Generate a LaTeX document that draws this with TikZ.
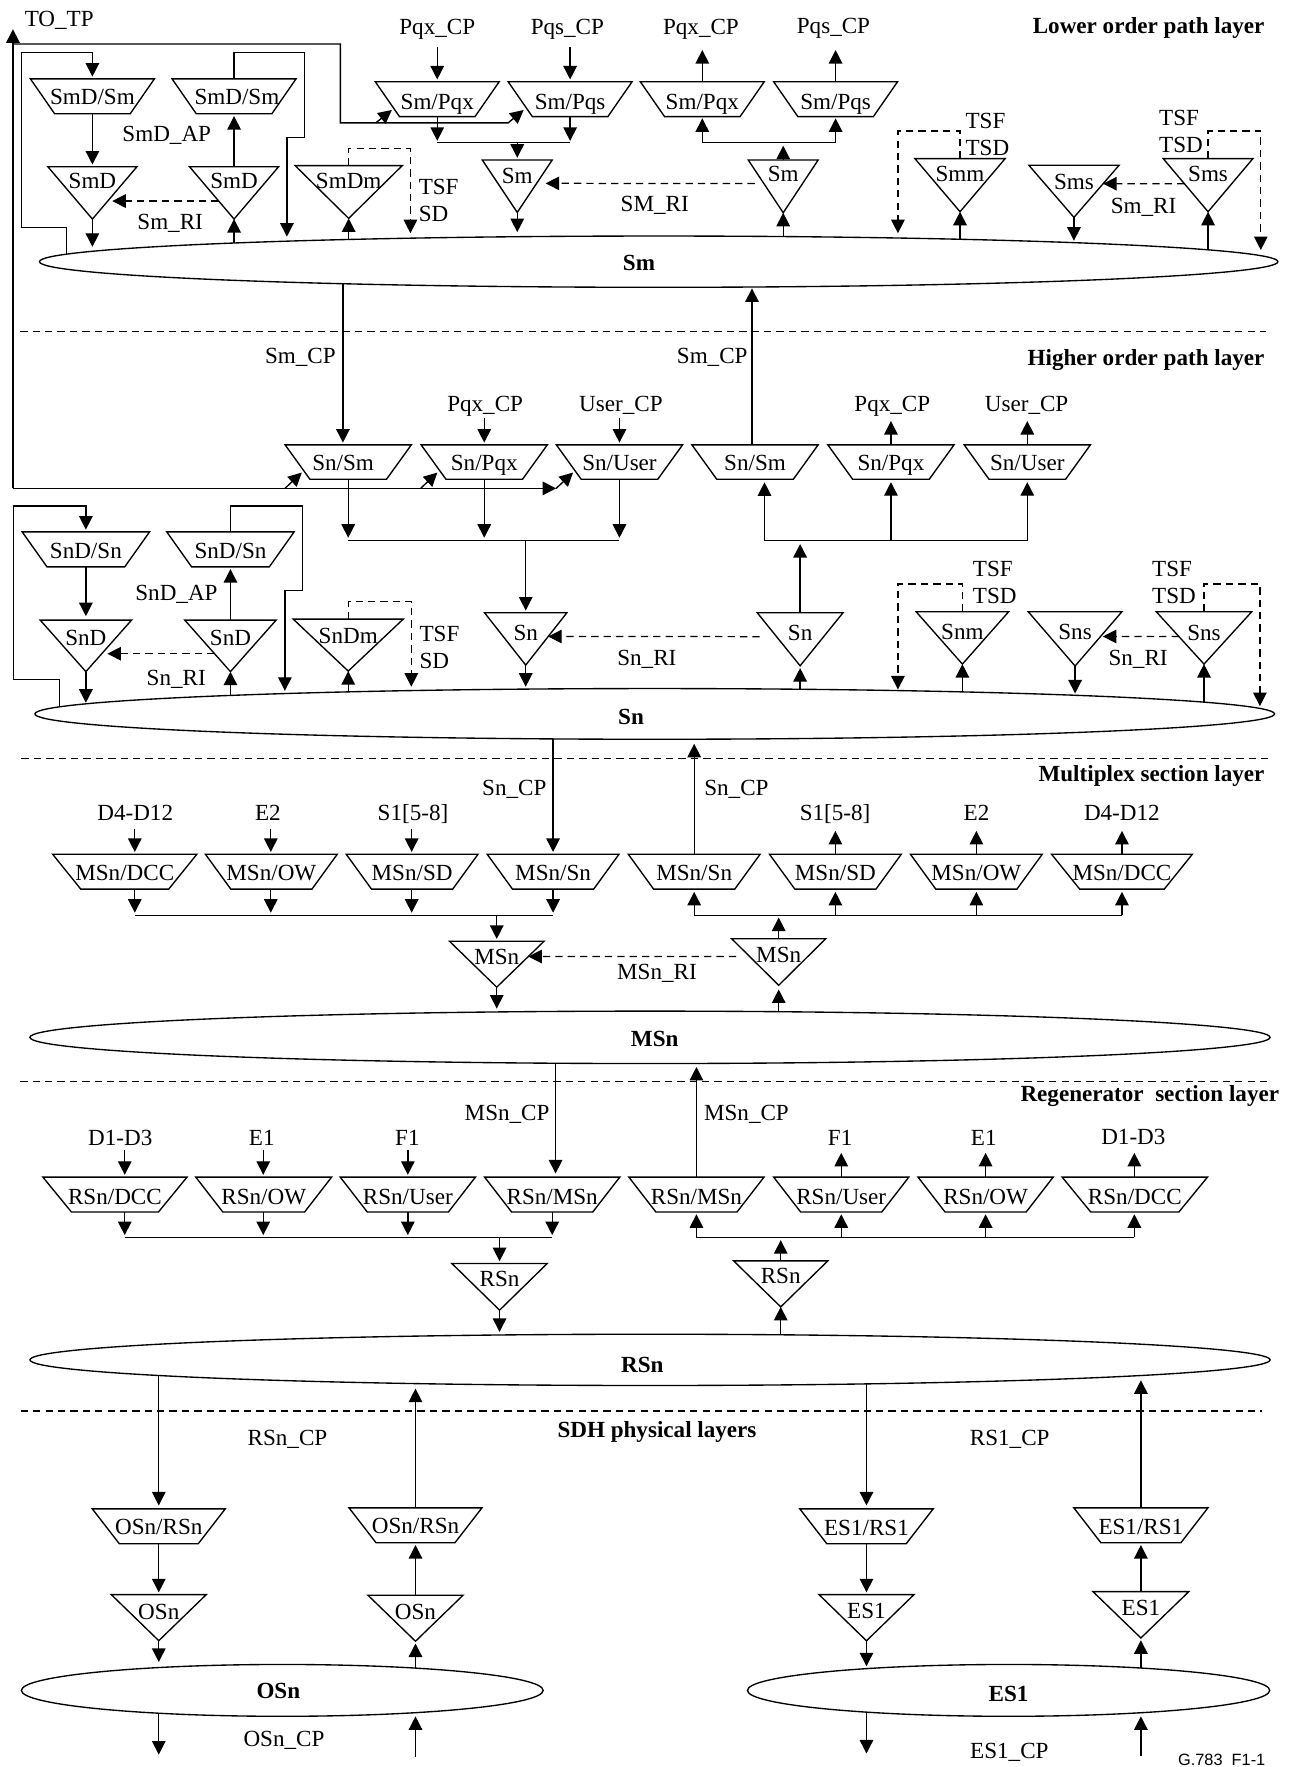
\documentclass[tikz,border=0pt]{standalone}
\usepackage{fontspec}
\setmainfont{Liberation Serif}
\newfontfamily\sansf{Liberation Sans}
\usetikzlibrary{arrows.meta,calc,shapes.geometric}
\pgfdeclarelayer{conn}
\pgfsetlayers{conn,main}
\newdimen\dsxa \newdimen\dsxb \newdimen\dsya \newdimen\dsyb \newdimen\dsin \newdimen\dsmid
\makeatletter
\pgfdeclareshape{dtri}{
  \inheritsavedanchors[from=rectangle]
  \inheritanchorborder[from=rectangle]
  \inheritanchor[from=rectangle]{center}
  \inheritanchor[from=rectangle]{north}
  \inheritanchor[from=rectangle]{south}
  \inheritanchor[from=rectangle]{east}
  \inheritanchor[from=rectangle]{west}
  \inheritanchor[from=rectangle]{north east}
  \inheritanchor[from=rectangle]{north west}
  \inheritanchor[from=rectangle]{south east}
  \inheritanchor[from=rectangle]{south west}
  \backgroundpath{
    \southwest \dsxa=\pgf@x \dsya=\pgf@y
    \northeast \dsxb=\pgf@x \dsyb=\pgf@y
    \dsmid=.5\dsxa \advance\dsmid by .5\dsxb
    \pgfpathmoveto{\pgfqpoint{\dsxa}{\dsyb}}
    \pgfpathlineto{\pgfqpoint{\dsxb}{\dsyb}}
    \pgfpathlineto{\pgfqpoint{\dsmid}{\dsya}}
    \pgfpathclose
  }
}
\pgfdeclareshape{dtrap}{
  \inheritsavedanchors[from=rectangle]
  \inheritanchorborder[from=rectangle]
  \inheritanchor[from=rectangle]{center}
  \inheritanchor[from=rectangle]{north}
  \inheritanchor[from=rectangle]{south}
  \inheritanchor[from=rectangle]{east}
  \inheritanchor[from=rectangle]{west}
  \inheritanchor[from=rectangle]{north east}
  \inheritanchor[from=rectangle]{north west}
  \inheritanchor[from=rectangle]{south east}
  \inheritanchor[from=rectangle]{south west}
  \backgroundpath{
    \pgfmathsetlength{\dsin}{\pgfkeysvalueof{/tikz/trap inset}}
    \southwest \dsxa=\pgf@x \dsya=\pgf@y
    \northeast \dsxb=\pgf@x \dsyb=\pgf@y
    \pgfpathmoveto{\pgfqpoint{\dsxa}{\dsyb}}
    \pgfpathlineto{\pgfqpoint{\dsxb}{\dsyb}}
    \advance\dsxb by -\dsin
    \pgfpathlineto{\pgfqpoint{\dsxb}{\dsya}}
    \advance\dsxa by \dsin
    \pgfpathlineto{\pgfqpoint{\dsxa}{\dsya}}
    \pgfpathclose
  }
}
\makeatother
\tikzset{
  trap inset/.initial=22pt,
  lnk/.style={line width=1.2pt,line join=miter},
  arr/.style={lnk,-{Triangle[length=12pt,width=12pt]}},
  arrs/.style={arr,shorten >=2pt},
  dsh/.style={line width=1.1pt,dash pattern=on 6.5pt off 4.5pt},
  dar/.style={dsh,-{Triangle[length=12pt,width=12pt]}},
  box/.style={draw,line width=1.2pt,inner sep=0pt,outer sep=0pt},
  txt/.style={inner sep=0pt,outer sep=0pt},
  sepline/.style={line width=1.1pt,dash pattern=on 6.5pt off 4.5pt}
}
\newcommand\Lab[3]{\smash{\makebox[0pt]{\kern#1pt\raisebox{#2pt}{#3}\kern-#1pt}}}
\newcommand\Tri[7]{\node[dtri,box,minimum width=#5pt,minimum height={(#4-#3)*1pt}] (#1) at (#2,{(#3+#4)/2}) {\Lab{0}{#6}{#7}};}
\newcommand\Trap[8]{\node[dtrap,box,trap inset=#6pt,minimum width=#4pt,minimum height=#5pt] (#1) at (#2,#3) {\Lab{0}{#7}{#8}};}
\newcommand\Ell[8]{\node[ellipse,box,fill=white,minimum width=#4pt,minimum height=#5pt] (#1) at (#2,#3) {\Lab{#6}{#7}{\bfseries #8}};}
\newcommand\Txt[5][base]{\node[txt,anchor=#1] (#2) at (#3,#4) {#5};}
\begin{document}
\begin{tikzpicture}[x=1pt,y=-1pt,font=\fontsize{20.5}{24}\selectfont]
\useasboundingbox (0,0) rectangle (1144,1568);

% ---------- ellipses
\Ell{sm}{584.5}{232.2}{1099}{45.5}{-17.5}{-7.8}{Sm}
\Ell{sn}{581}{633.5}{1100}{45}{-21}{-9.4}{Sn}
\Ell{msn}{576.8}{920.5}{1100.5}{46.5}{4.2}{-8.5}{MSn}
\Ell{rsn}{576.8}{1206.7}{1100.5}{45.5}{-6.8}{-11.6}{RSn}
\Ell{osn}{250.5}{1500}{463}{46}{-3.5}{-7.3}{OSn}
\Ell{esa}{895}{1500}{463.5}{46}{0}{-9.7}{ES1}

% ---------- layer separators and titles
\coordinate (sepA1) at (18,294); \coordinate (sepA2) at (1123,294);
\coordinate (sepB1) at (19,673); \coordinate (sepB2) at (1127,673);
\coordinate (sepC1) at (18,959.4); \coordinate (sepC2) at (1127,959.4);
\coordinate (sepD1) at (18.4,1252.3); \coordinate (sepD2) at (1120,1252.3);
\draw[sepline] (sepA1) -- (sepA2);
\draw[sepline] (sepB1) -- (sepB2);
\draw[sepline] (sepC1) -- (sepC2);
\draw[sepline,line width=1.6pt] (sepD1) -- (sepD2);
\Txt[base east]{ttlA}{1122}{29.6}{\bfseries Lower order path layer}
\Txt[base east]{ttlB}{1122}{324}{\bfseries Higher order path layer}
\Txt[base east]{ttlC}{1122}{693.8}{\bfseries Multiplex section layer}
\Txt[base east]{ttlD}{1135}{977.7}{\bfseries Regenerator\ \ section layer}
\Txt{ttlE}{583}{1275.7}{\bfseries SDH physical layers}

% ---------- lower order path layer: shapes
\Trap{tSmDa}{82}{85.5}{110}{31}{21.5}{-7}{SmD/Sm}
\Trap{tSmDb}{207.7}{85.5}{110}{31}{21.5}{-7}{\kern5pt SmD/Sm}
\Trap{tPqxa}{388}{88}{110}{31}{21.5}{-9.6}{Sm/Pqx}
\Trap{tPqsa}{505.9}{88}{110}{31}{21.5}{-9.6}{Sm/Pqs}
\Trap{tPqxb}{623.2}{88}{110}{31}{21.5}{-9.6}{Sm/Pqx}
\Trap{tPqsb}{741.5}{88}{110}{31}{21.5}{-9.6}{Sm/Pqs}
\Tri{dSmDa}{82}{148}{194.4}{79}{3.8}{SmD}
\Tri{dSmDb}{207.7}{148}{194.4}{79}{3.8}{SmD}
\Tri{dSmDm}{309.4}{147}{193.8}{95}{3}{SmDm}
\Tri{dSma}{459}{142}{188.5}{62}{2.5}{Sm}
\Tri{dSmb}{695}{142}{188.8}{62}{4}{Sm}
\Tri{dSmm}{851.9}{140.8}{187.9}{80}{3}{Smm}
\Tri{dSmsa}{953}{146.7}{192.9}{80}{2}{Sms}
\Tri{dSmsb}{1072}{140.8}{187.9}{79.5}{3}{Sms}

% labels
\Txt[base west]{lTOTP}{22}{23.7}{TO\_TP}
\Txt{lPqxa}{388}{31}{Pqx\_CP}
\Txt{lPqsa}{503.5}{31}{Pqs\_CP}
\Txt{lPqxb}{622}{31}{Pqx\_CP}
\Txt{lPqsb}{739.6}{30}{Pqs\_CP}
\Txt{lSmDAP}{148}{125.7}{SmD\_AP}
\Txt{lSmRIa}{151}{204}{Sm\_RI}
\Txt{lSMRI}{581}{188}{SM\_RI}
\Txt{lSmRIb}{1014.7}{189.3}{Sm\_RI}
\Txt[base west]{lTSFa}{371.6}{173}{TSF}
\Txt[base west]{lSDa}{371.6}{196.7}{SD}
\Txt[base west]{lTSFb}{856.8}{114}{TSF}
\Txt[base west]{lTSDb}{856.8}{137.6}{TSD}
\Txt[base west]{lTSFc}{1028.6}{111}{TSF}
\Txt[base west]{lTSDc}{1028.6}{135.2}{TSD}

% ---------- higher order path layer: shapes
\Trap{tSnSma}{309}{410}{112}{30.5}{22}{-7.5}{\kern-9pt Sn/Sm}
\Trap{tSnPa}{429.7}{410}{112}{30.5}{22}{-7.5}{Sn/Pqx}
\Trap{tSnUa}{549.7}{410}{112}{30.5}{22}{-7.5}{Sn/User}
\Trap{tSnSmb}{670}{410}{112}{30.5}{22}{-7.5}{Sn/Sm}
\Trap{tSnPb}{790.6}{410}{112}{30.5}{22}{-7.5}{Sn/Pqx}
\Trap{tSnUb}{911.6}{410}{112}{30.5}{22}{-7.5}{Sn/User}
\Trap{tSnDa}{76.2}{487.5}{113}{31}{22}{-7.7}{SnD/Sn}
\Trap{tSnDb}{204.5}{487.5}{113}{31}{22}{-7.7}{SnD/Sn}
\Tri{dSnDa}{76.2}{550.3}{596}{81}{0.5}{SnD}
\Tri{dSnDb}{204.5}{550.3}{596}{81}{0.5}{SnD}
\Tri{dSnDm}{309}{549.4}{595.5}{97.6}{1}{SnDm}
\Tri{dSna}{466.5}{543.8}{590.2}{73}{-1}{Sn}
\Tri{dSnb}{710}{543.8}{590.8}{76}{-1}{Sn}
\Tri{dSnm}{854}{542.9}{589.3}{82}{-1.3}{Snm}
\Tri{dSnsa}{954}{542.9}{591}{83}{-0.5}{Sns}
\Tri{dSnsb}{1068.4}{542.9}{589.3}{84.6}{-2}{Sns}

\Txt{lSmCPa}{266.5}{323}{Sm\_CP}
\Txt{lSmCPb}{632}{323}{Sm\_CP}
\Txt{lPqxc}{430.5}{365.4}{Pqx\_CP}
\Txt{lUsra}{551}{365.4}{User\_CP}
\Txt{lPqxd}{791.8}{365}{Pqx\_CP}
\Txt{lUsrb}{911}{365}{User\_CP}
\Txt{lSnDAP}{156.6}{532.5}{SnD\_AP}
\Txt{lSnRIa}{156.4}{608}{Sn\_RI}
\Txt{lSnRIb}{574}{590.8}{Sn\_RI}
\Txt{lSnRIc}{1009.9}{590.8}{Sn\_RI}
\Txt[base west]{lTSFd}{372.3}{569.5}{TSF}
\Txt[base west]{lSDb}{372.3}{593.2}{SD}
\Txt[base west]{lTSFe}{863.4}{511.8}{TSF}
\Txt[base west]{lTSDe}{863.4}{535.5}{TSD}
\Txt[base west]{lTSFf}{1022.4}{511.8}{TSF}
\Txt[base west]{lTSDf}{1022.4}{535.5}{TSD}

% ---------- multiplex section layer: shapes
\Trap{tMDa}{110.7}{773.5}{128}{31}{25}{-7.5}{MSn/DCC}
\Trap{tMOa}{240.8}{773.5}{117}{31}{22.5}{-7.5}{MSn/OW}
\Trap{tMSa}{365.7}{773.5}{117}{31}{22.5}{-7.5}{MSn/SD}
\Trap{tMNa}{490.8}{773.5}{117}{31}{22.5}{-7.5}{MSn/Sn}
\Trap{tMNb}{616}{773.5}{117}{31}{22.5}{-7.5}{MSn/Sn}
\Trap{tMSb}{741.3}{773.5}{117}{31}{22.5}{-7.5}{MSn/SD}
\Trap{tMOb}{866.4}{773.5}{117}{31}{22.5}{-7.5}{MSn/OW}
\Trap{tMDb}{995.6}{773.5}{125}{31}{25}{-7.5}{MSn/DCC}
\Tri{dMa}{440.8}{835.2}{876}{84}{0}{MSn}
\Tri{dMb}{691}{833}{874.3}{83.5}{0}{MSn}

\Txt{lSnCPa}{456.4}{705.6}{Sn\_CP}
\Txt{lSnCPb}{653.5}{705.6}{Sn\_CP}
\Txt{lD4a}{120}{727.8}{D4-D12}
\Txt{lE2a}{237.7}{727.8}{E2}
\Txt{lS1a}{366.5}{727.8}{S1[5-8]}
\Txt{lS1b}{741}{727.8}{S1[5-8]}
\Txt{lE2b}{866.5}{727.8}{E2}
\Txt{lD4b}{995.5}{727.8}{D4-D12}
\Txt{lMSnRI}{583}{869.2}{MSn\_RI}

% ---------- regenerator section layer: shapes
\Trap{tRDa}{102}{1060}{128}{31}{25.4}{-9}{RSn/DCC}
\Trap{tROa}{234}{1060}{120.6}{31}{24}{-9}{RSn/OW}
\Trap{tRUa}{361.9}{1060}{120}{31}{24}{-9}{RSn/User}
\Trap{tRMa}{490}{1060}{120}{31}{24}{-9}{RSn/MSn}
\Trap{tRMb}{618}{1060}{120}{31}{24}{-9}{RSn/MSn}
\Trap{tRUb}{746.5}{1060}{120}{31}{24}{-9}{RSn/User}
\Trap{tROb}{874.6}{1060}{120}{31}{24}{-9}{RSn/OW}
\Trap{tRDb}{1007}{1060}{129}{31}{25.4}{-9}{RSn/DCC}
\Tri{dRa}{443.3}{1121.2}{1162.6}{84.6}{0}{RSn}
\Tri{dRb}{692.8}{1118.9}{1159.7}{83.5}{0}{RSn}

\Txt{lMSnCPa}{450}{994}{MSn\_CP}
\Txt{lMSnCPb}{662.4}{994}{MSn\_CP}
\Txt{lD1a}{106.7}{1016.2}{D1-D3}
\Txt{lE1a}{232.3}{1016.2}{E1}
\Txt{lF1a}{361.5}{1016.2}{F1}
\Txt{lF1b}{745.5}{1016.2}{F1}
\Txt{lE1b}{873}{1016.2}{E1}
\Txt{lD1b}{1005.7}{1015.3}{D1-D3}

% ---------- physical layers: shapes
\Trap{tOa}{140.9}{1354.4}{118}{31}{24}{-7.4}{OSn/RSn}
\Trap{tOb}{368.7}{1353.5}{118}{31}{24}{-7.4}{OSn/RSn}
\Trap{tEa}{768.9}{1354.4}{118.4}{31}{24}{-8}{ES1/RS1}
\Trap{tEb}{1012.4}{1353.5}{119}{31}{24}{-8}{ES1/RS1}
\Tri{dOa}{140.9}{1415}{1455.9}{84.3}{-1.5}{OSn}
\Tri{dOb}{368.7}{1415.6}{1456.4}{84.3}{-1.5}{OSn}
\Tri{dEa}{768.9}{1415}{1456}{84.3}{-1}{ES1}
\Tri{dEb}{1012.4}{1412.4}{1453.5}{85}{-1}{ES1}

\Txt{lRSnCP}{255.1}{1282.5}{RSn\_CP}
\Txt{lRS1CP}{896}{1282.5}{RS1\_CP}
\Txt{lOSnCP}{252}{1550.2}{OSn\_CP}
\Txt{lES1CP}{895.7}{1560}{ES1\_CP}
\Txt[base east]{lFig}{1122.8}{1566.5}{\sansf\fontsize{14.5}{16}\selectfont G.783\ \ F1-1}

% ---------- connectors (under the shapes)
\begin{pgfonlayer}{conn}
% TO_TP bus
\coordinate (tpTop) at (11.5,26);
\coordinate (tpLow) at (11.5,433.4);
\coordinate (tpA) at (302,39);
\coordinate (tpB) at (302,109);
\coordinate (tpC) at (451,109);
\coordinate (tpD) at (333.5,109);
\coordinate (inPqs) at ($(tPqsa.south west)+(13.8,-5.9)$);
\coordinate (inPqx) at ($(tPqxa.south west)+(14.7,-5.9)$);
\draw[arr] (tpLow) -- (tpTop);
\draw[arr] (tpLow |- tpA) -- (tpA) -- (tpB) -- (tpC) -- (inPqs);
\draw[arr] (tpD) -- (inPqx);
\coordinate (tpE) at (493.5,433.4);
\coordinate (inSa) at ($(tSnSma.south west)+(14.8,-5.9)$);
\coordinate (inSb) at ($(tSnPa.south west)+(14.4,-5.9)$);
\coordinate (inSc) at ($(tSnUa.south west)+(14.8,-5.9)$);
\coordinate (tpF) at ($(inSa)+(-14.8,13.9)$);
\coordinate (tpG) at ($(inSb)+(-14.7,13.9)$);
\draw[arr] (tpLow) -- (tpE);
\draw[arr] (tpF) -- (inSa);
\draw[arr] (tpG) -- (inSb);
\draw[arr] (tpE) -- (inSc);

% Lower order, SmD loops
\coordinate (lA1) at (59,201.8);
\coordinate (lA2) at (19,201.8);
\coordinate (lA3) at (19,46.4);
\draw[arrs] (lA1 |- sm.center) -- (lA1) -- (lA2) -- (lA3) -- (lA3 -| tSmDa.north) -- (tSmDa.north);
\draw[arrs] (tSmDa.south) -- (dSmDa.north);
\coordinate (eA) at (82,219);
\draw[arr] (dSmDa.south) -- (eA);
\draw[arrs] (dSmDb.north) -- (tSmDb.south);
\coordinate (lB1) at (270,46.4);
\coordinate (lB2) at (270,121.9);
\coordinate (lB3) at (254.6,121.9);
\coordinate (lB4) at (254.6,210);
\draw[arr] (tSmDb.north) -- (tSmDb.north |- lB1) -- (lB1) -- (lB2) -- (lB3) -- (lB4);
\draw[arr] (dSmDb.south |- sm.center) -- (dSmDb.south);
\draw[dar,shorten >=4pt] ($(dSmDb.north west)!.655!(dSmDb.south)$) -- ($(dSmDa.north east)!.655!(dSmDa.south)$);
% SmDm
\draw[arr] (dSmDm.south |- sm.center) -- (dSmDm.south);
\coordinate (mA1) at (364.2,132);
\coordinate (mA2) at (364.2,207);
\draw[dar] (dSmDm.north) -- (dSmDm.north |- mA1) -- (mA1) -- (mA2);
% Pq access
\coordinate (qA) at (388,42);
\coordinate (qB) at (505.9,42);
\coordinate (qC) at (0,44.4);
\draw[arrs] (qA) -- (tPqxa.north);
\draw[arrs] (qB) -- (tPqsa.north);
\draw[arr] (tPqxb.north) -- (tPqxb.north |- qC);
\draw[arr] (tPqsb.north) -- (tPqsb.north |- qC);
\coordinate (busA) at (459,126.6);
\coordinate (busB) at (695,126.6);
\draw[lnk] (tPqxa.south |- busA) -- (tPqsa.south |- busA);
\draw[arr,shorten >=1.6pt] (tPqxa.south) -- (tPqxa.south |- busA);
\draw[arr,shorten >=1.6pt] (tPqsa.south) -- (tPqsa.south |- busA);
\draw[arrs] (busA) -- (dSma.north);
\coordinate (eB) at (459,206);
\draw[arr] (dSma.south) -- (eB);
\draw[lnk] (tPqxb.south |- busB) -- (tPqsb.south |- busB);
\draw[arr,shorten >=1.5pt] (tPqxb.south |- busB) -- (tPqxb.south);
\draw[arr,shorten >=1.5pt] (tPqsb.south |- busB) -- (tPqsb.south);
\draw[arr,shorten >=2.7pt] (dSmb.north) -- (busB);
\draw[arr] (dSmb.south |- sm.center) -- (dSmb.south);
\draw[dar,shorten >=8pt,shorten <=8pt] ($(dSmb.north west)!.445!(dSmb.south)$) -- ($(dSma.north east)!.445!(dSma.south)$);
% Smm
\draw[arr] (dSmm.south |- sm.center) -- (dSmm.south);
\coordinate (mB1) at (796.8,116.3);
\coordinate (mB2) at (796.8,207);
\draw[dar] (dSmm.north) -- (dSmm.north |- mB1) -- (mB1) -- (mB2);
% Sms
\coordinate (eC) at (953,213.6);
\draw[arr] (dSmsa.south) -- (eC);
\draw[arr] (dSmsb.south |- sm.center) -- (dSmsb.south);
\draw[dar] ($(dSmsb.north west)!.471!(dSmsb.south)$) -- ($(dSmsa.north east)!.353!(dSmsa.south)$);
\coordinate (mC1) at (1118.8,116.3);
\coordinate (mC2) at (1118.8,221.9);
\draw[dar] (dSmsb.north) -- (dSmsb.north |- mC1) -- (mC1) -- (mC2);

% Sm <-> Sn
\coordinate (dnB) at (304.3,410);
\draw[arrs] (dnB |- sm.center) -- (dnB |- tSnSma.north);
\coordinate (upA) at (667.3,395);
\draw[arr,shorten >=1pt] (upA) -- (upA |- sm.south);
% Higher access
\coordinate (hA) at (0,371.3);
\coordinate (hB) at (0,373.6);
\draw[arrs] (tSnPa.north |- hA) -- (tSnPa.north);
\draw[arrs] (tSnUa.north |- hA) -- (tSnUa.north);
\draw[arr] (tSnPb.north) -- (tSnPb.north |- hB);
\draw[arr] (tSnUb.north) -- (tSnUb.north |- hB);
\coordinate (busC) at (466.5,479.9);
\coordinate (busD) at (710,479.9);
\draw[lnk] (tSnSma.south |- busC) -- (tSnUa.south |- busC);
\draw[arr,shorten >=2.7pt] (tSnSma.south) -- (tSnSma.south |- busC);
\draw[arr,shorten >=2.7pt] (tSnPa.south) -- (tSnPa.south |- busC);
\draw[arr,shorten >=2.7pt] (tSnUa.south) -- (tSnUa.south |- busC);
\draw[arrs] (busC) -- (dSna.north);
\coordinate (eD) at (466.5,609.4);
\draw[arr] (dSna.south) -- (eD);
\coordinate (sD) at (678.4,425.4);
\draw[lnk] (sD |- busD) -- (tSnUb.south |- busD);
\draw[arr,shorten >=2.6pt] (sD |- busD) -- (sD);
\draw[arr,shorten >=2.6pt] (tSnPb.south |- busD) -- (tSnPb.south);
\draw[arr,shorten >=2.6pt] (tSnUb.south |- busD) -- (tSnUb.south);
\draw[arr,line width=1.5pt,shorten >=2.9pt] (dSnb.north) -- (busD);
\draw[arr,shorten >=2pt] (dSnb.south |- sn.center) -- (dSnb.south);
\draw[dar,shorten <=15pt] ($(dSnb.north west)!.45!(dSnb.south)$) -- ($(dSna.north east)!.453!(dSna.south)$);
% SnD loops
\coordinate (lC1) at (52.6,603);
\coordinate (lC2) at (12.1,603);
\coordinate (lC3) at (12.1,449);
\draw[arrs] (lC1 |- sn.center) -- (lC1) -- (lC2) -- (lC3) -- (lC3 -| tSnDa.north) -- (tSnDa.north);
\draw[arr,shorten >=3.5pt] (tSnDa.south) -- (dSnDa.north);
\coordinate (eE) at (76.2,623.6);
\draw[arr] (dSnDa.south) -- (eE);
\draw[arrs] (dSnDb.north) -- (tSnDb.south);
\coordinate (lD1) at (268.6,449);
\coordinate (lD2) at (268.6,524.2);
\coordinate (lD3) at (252.8,524.2);
\coordinate (lD4) at (252.8,613);
\draw[arr] (tSnDb.north) -- (tSnDb.north |- lD1) -- (lD1) -- (lD2) -- (lD3) -- (lD4);
\draw[arr] (dSnDb.south |- sn.center) -- (dSnDb.south);
\draw[dar,shorten >=5pt] ($(dSnDb.north west)!.652!(dSnDb.south)$) -- ($(dSnDa.north east)!.652!(dSnDa.south)$);
% SnDm
\draw[arr] (dSnDm.south |- sn.center) -- (dSnDm.south);
\coordinate (mD1) at (365,534);
\coordinate (mD2) at (365,609.4);
\draw[dar] (dSnDm.north) -- (dSnDm.north |- mD1) -- (mD1) -- (mD2);
% Snm
\draw[arr] (dSnm.south |- sn.center) -- (dSnm.south);
\coordinate (mE1) at (796.8,518.3);
\coordinate (mE2) at (796.8,611.8);
\draw[dar] (dSnm.north) -- (dSnm.north |- mE1) -- (mE1) -- (mE2);
% Sns
\coordinate (eF) at (954,615.4);
\draw[arr] (dSnsa.south) -- (eF);
\draw[arr] (dSnsb.south |- sn.center) -- (dSnsb.south);
\draw[dar,shorten >=2pt] ($(dSnsb.north west)!.472!(dSnsb.south)$) -- ($(dSnsa.north east)!.455!(dSnsa.south)$);
\coordinate (mF1) at (1118,518.3);
\coordinate (mF2) at (1118,626.6);
\draw[dar] (dSnsb.north) -- (dSnsb.north |- mF1) -- (mF1) -- (mF2);

% Sn <-> MSn
\draw[arrs] (tMNa.north |- sn.center) -- (tMNa.north);
\draw[arr,shorten >=4pt] (tMNb.north) -- (tMNb.north |- sn.south);
\coordinate (kA) at (119.6,735.2);
\coordinate (kB) at (240.3,735.2);
\coordinate (kC) at (365.3,735.2);
\coordinate (kD) at (741.3,737.3);
\draw[arrs] (kA) -- (kA |- tMDa.north);
\draw[arrs] (kB) -- (kB |- tMOa.north);
\draw[arrs] (kC) -- (kC |- tMSa.north);
\draw[arr] (tMSb.north) -- (tMSb.north |- kD);
\draw[arr] (tMOb.north) -- (tMOb.north |- kD);
\draw[arr] (tMDb.north) -- (tMDb.north |- kD);
\coordinate (busE) at (440.8,812.1);
\coordinate (busF) at (691,812.1);
\draw[lnk] (kA |- busE) -- (tMNa.south |- busE);
\draw[arr,shorten >=2.2pt] (kA |- tMDa.south) -- (kA |- busE);
\draw[arr,shorten >=2.2pt] (kB |- tMOa.south) -- (kB |- busE);
\draw[arr,shorten >=2.2pt] (kC |- tMSa.south) -- (kC |- busE);
\draw[arr,shorten >=2.2pt] (tMNa.south) -- (tMNa.south |- busE);
\draw[arrs] (busE) -- (dMa.north);
\coordinate (eG) at (440.8,895);
\draw[arr] (dMa.south) -- (eG);
\draw[lnk] (tMNb.south |- busF) -- (tMDb.south |- busF);
\draw[arr,shorten >=2.4pt] (tMNb.south |- busF) -- (tMNb.south);
\draw[arr,shorten >=2.4pt] (tMSb.south |- busF) -- (tMSb.south);
\draw[arr,shorten >=2.4pt] (tMOb.south |- busF) -- (tMOb.south);
\draw[arr,shorten >=2.4pt] (tMDb.south |- busF) -- (tMDb.south);
\draw[arr,shorten >=2.1pt] (dMb.north) -- (busF);
\draw[arr,shorten >=3.7pt] (dMb.south |- msn.center) -- (dMb.south);
\draw[dar,shorten <=12pt] ($(dMb.north west)!.383!(dMb.south)$) -- ($(dMa.north east)!.333!(dMa.south)$);

% MSn <-> RSn
\coordinate (dnA) at (493,1044.3);
\draw[arr,shorten >=3pt] (dnA |- msn.center) -- (dnA);
\draw[arr,shorten >=3pt] (tRMb.north) -- (tRMb.north |- msn.south);
\coordinate (kE) at (110.7,1020.6);
\coordinate (kF) at (233.6,1020.6);
\coordinate (kG) at (361.9,1020.6);
\coordinate (kH) at (746.5,1023);
\draw[arrs] (kE) -- (kE |- tRDa.north);
\draw[arrs] (kF) -- (kF |- tROa.north);
\draw[arrs] (kG) -- (kG |- tRUa.north);
\draw[arr] (tRUb.north) -- (tRUb.north |- kH);
\draw[arr] (tROb.north) -- (tROb.north |- kH);
\coordinate (kI) at (1006.6,1023);
\draw[arr] (kI |- tRDb.north) -- (kI);
\coordinate (busG) at (443.3,1098.1);
\coordinate (busH) at (692.8,1098.1);
\draw[lnk] (kE |- busG) -- (tRMa.south |- busG);
\draw[arr,shorten >=2.1pt] (kE |- tRDa.south) -- (kE |- busG);
\draw[arr,shorten >=2.1pt] (kF |- tROa.south) -- (kF |- busG);
\draw[arr,shorten >=2.1pt] (kG |- tRUa.south) -- (kG |- busG);
\draw[arr,shorten >=2.1pt] (tRMa.south) -- (tRMa.south |- busG);
\draw[arrs] (busG) -- (dRa.north);
\coordinate (eH) at (443.3,1181.9);
\draw[arr] (dRa.south) -- (eH);
\draw[lnk] (tRMb.south |- busH) -- (kI |- busH);
\draw[arr,shorten >=2pt] (tRMb.south |- busH) -- (tRMb.south);
\draw[arr,shorten >=2pt] (tRUb.south |- busH) -- (tRUb.south);
\draw[arr,shorten >=2pt] (tROb.south |- busH) -- (tROb.south);
\draw[arr,shorten >=2pt] (kI |- busH) -- (kI |- tRDb.south);
\draw[arr,shorten >=2.4pt] (dRb.north) -- (busH);
\draw[arr] (dRb.south |- rsn.center) -- (dRb.south);

% RSn <-> physical
\draw[arr,shorten >=3pt] (tOa.north |- rsn.center) -- (tOa.north);
\coordinate (uA) at (368.7,1232.2);
\draw[arr] (tOb.north) -- (uA);
\draw[arr,shorten >=3pt] (tEa.north |- rsn.center) -- (tEa.north);
\coordinate (uB) at (1012.4,1224.8);
\draw[arr] (tEb.north) -- (uB);
\draw[arrs] (tOa.south) -- (dOa.north);
\draw[arrs] (dOb.north) -- (tOb.south);
\draw[arrs] (tEa.south) -- (dEa.north);
\draw[arrs] (dEb.north) -- (tEb.south);
\coordinate (eI) at (140.9,1474.8);
\coordinate (eJ) at (768.9,1478.6);
\draw[arr] (dOa.south) -- (eI);
\draw[arr] (dEa.south) -- (eJ);
\draw[arrs] (dOb.south |- osn.center) -- (dOb.south);
\draw[arrs] (dEb.south |- esa.center) -- (dEb.south);
\coordinate (fA) at (140.9,1557);
\coordinate (fB) at (368.7,1559);
\coordinate (fC) at (368.7,1523);
\coordinate (fD) at (768.9,1556);
\coordinate (fE) at (1012.4,1558.5);
\coordinate (fF) at (1012.4,1523);
\draw[arr] (fA |- osn.center) -- (fA);
\draw[arr] (fB) -- (fC);
\draw[arr] (fD |- esa.center) -- (fD);
\draw[arr] (fE) -- (fF);
\end{pgfonlayer}
\end{tikzpicture}
\end{document}
